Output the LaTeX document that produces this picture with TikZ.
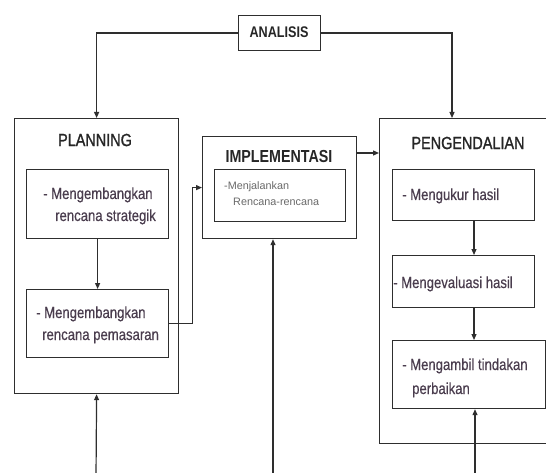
\documentclass[tikz,border=0pt]{standalone}
\usepackage{fontspec}
\setmainfont{Liberation Sans}[FakeStretch=0.82]
\newfontfamily\plainsans{Liberation Sans}
\newfontfamily\semib{Liberation Sans}[FakeStretch=0.82,FakeBold=1.2]
\newfontfamily\lightb{Liberation Sans}[FakeStretch=0.82,FakeBold=0.4]
\usetikzlibrary{arrows.meta}
\definecolor{ln}{HTML}{2E2E2E}
\definecolor{ttlc}{HTML}{262626}
\definecolor{txt}{HTML}{4A3D4E}
\definecolor{smalltxt}{HTML}{6A6A6A}
\begin{document}
\begin{tikzpicture}[x=1pt,y=-1pt,
  box/.style={draw=ln, line width=1.2pt, inner sep=0pt, anchor=north west, fill=none},
  arr/.style={draw=ln, line width=1.2pt, -{Triangle[length=6pt,width=5pt]}},
  ttl/.style={inner sep=0pt, text=ttlc, font=\semib\fontsize{17.6}{20}\selectfont},
  itxt/.style={inner sep=0pt, anchor=base west, text=txt, font=\lightb\fontsize{16}{19}\selectfont},
  stxt/.style={inner sep=0pt, anchor=base west, text=smalltxt, font=\plainsans\fontsize{10.8}{13}\selectfont}]
\clip (0,0) rectangle (546,473);
\fill[white] (0,0) rectangle (546,473);

% boxes
\node[box, minimum width=82pt, minimum height=35pt] (ana) at (238,15) {};
\node[box, minimum width=164pt, minimum height=275pt] (plan) at (14,118) {};
\node[box, minimum width=142pt, minimum height=69pt] (p1) at (26,169) {};
\node[box, minimum width=142pt, minimum height=68pt] (p2) at (26,289) {};
\node[box, minimum width=154pt, minimum height=102pt] (impl) at (202,136) {};
\node[box, minimum width=131pt, minimum height=52pt] (i1) at (214,169) {};
\node[box, minimum width=185pt, minimum height=325pt] (peng) at (379,118) {};
\node[box, minimum width=142pt, minimum height=51pt] (e1) at (392,169) {};
\node[box, minimum width=142pt, minimum height=52pt] (e2) at (392,255) {};
\node[box, minimum width=153pt, minimum height=68pt] (e3) at (392,340) {};

% titles
\node[ttl, font=\bfseries\fontsize{15.4}{18}\selectfont] (tana) at (279,32) {ANALISIS};
\node[ttl] (tplan) at (95,140) {PLANNING};
\node[ttl, font=\bfseries\fontsize{17.4}{20}\selectfont] (timpl) at (279,157) {IMPLEMENTASI};
\node[ttl] (tpeng) at (468,143) {PENGENDALIAN};

% inner texts
\node[itxt] (p1a) at (43,199) {- Mengembangkan};
\node[itxt] (p1b) at (55,221) {rencana strategik};
\node[itxt] (p2a) at (36,318) {- Mengembangkan};
\node[itxt] (p2b) at (42,340) {rencana pemasaran};
\node[stxt] (i1a) at (224,190) {-Menjalankan};
\node[stxt] (i1b) at (233,206) {Rencana-rencana};
\node[itxt] (e1a) at (402,200) {- Mengukur hasil};
\node[itxt] (e2a) at (393,288) {- Mengevaluasi hasil};
\node[itxt] (e3a) at (402,370) {- Mengambil tindakan};
\node[itxt] (e3b) at (412,394) {perbaikan};

% helper coordinates
\coordinate (pengtop) at (452,118);
\coordinate (ie) at (356,153);
\coordinate (b1) at (96,478);
\coordinate (b2) at (273,478);
\coordinate (b3) at (475,478);
\coordinate (ecol) at (474,0);

% connectors
\draw[arr] (ana.west) -| (plan.north);
\draw[arr] (ana.east) -| (pengtop);
\draw[arr] (p1.south) -- (p2.north);
\draw[arr] (b1) -- (plan.south);
\draw[arr] (p2.east) -- ++(23,0) |- (impl.west);
\draw[arr] (ie) -- (ie -| peng.west);
\draw[arr] (b2) -- (b2 |- impl.south);
\draw[arr] (e1.south -| ecol) -- (e2.north -| ecol);
\draw[arr] (e2.south -| ecol) -- (e3.north -| ecol);
\draw[arr] (b3) -- (b3 |- e3.south);
\end{tikzpicture}
\end{document}
